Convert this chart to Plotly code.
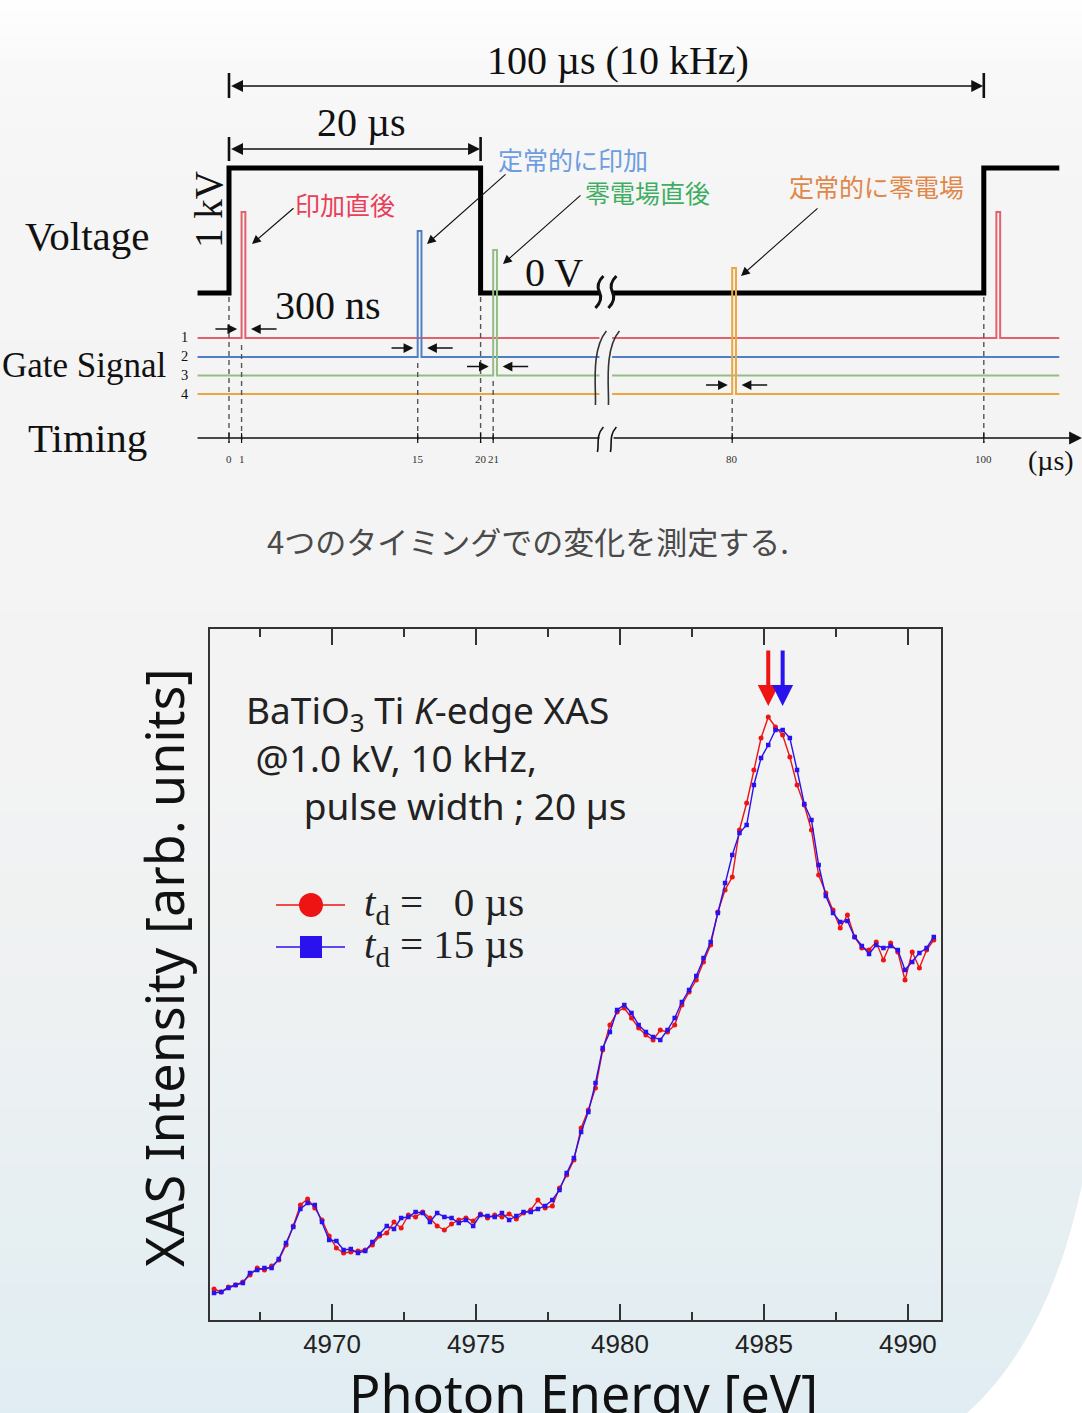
import plotly.graph_objects as go

W, H = 1082, 1413

# ---------------- Ti K-edge XAS of BaTiO3 (two gate delays) ----------------
energy_ev = [
    4965.90, 4966.15, 4966.40, 4966.65, 4966.90, 4967.15, 4967.40, 4967.65, 4967.90, 4968.15,
    4968.40, 4968.65, 4968.90, 4969.15, 4969.40, 4969.65, 4969.90, 4970.15, 4970.40, 4970.65,
    4970.90, 4971.15, 4971.40, 4971.65, 4971.90, 4972.15, 4972.40, 4972.65, 4972.90, 4973.15,
    4973.40, 4973.65, 4973.90, 4974.15, 4974.40, 4974.65, 4974.90, 4975.15, 4975.40, 4975.65,
    4975.90, 4976.15, 4976.40, 4976.65, 4976.90, 4977.15, 4977.40, 4977.65, 4977.90, 4978.15,
    4978.40, 4978.65, 4978.90, 4979.15, 4979.40, 4979.65, 4979.90, 4980.15, 4980.40, 4980.65,
    4980.90, 4981.15, 4981.40, 4981.65, 4981.90, 4982.15, 4982.40, 4982.65, 4982.90, 4983.15,
    4983.40, 4983.65, 4983.90, 4984.15, 4984.40, 4984.65, 4984.90, 4985.15, 4985.40, 4985.65,
    4985.90, 4986.15, 4986.40, 4986.65, 4986.90, 4987.15, 4987.40, 4987.65, 4987.90, 4988.15,
    4988.40, 4988.65, 4988.90, 4989.15, 4989.40, 4989.65, 4989.90, 4990.15, 4990.40, 4990.65,
    4990.90,
]

intensity_td0 = [
    0.062, 0.056, 0.066, 0.070, 0.076, 0.090, 0.104, 0.100, 0.108, 0.120,
    0.150, 0.188, 0.230, 0.242, 0.224, 0.200, 0.168, 0.144, 0.134, 0.136,
    0.138, 0.140, 0.150, 0.168, 0.174, 0.196, 0.184, 0.210, 0.206, 0.216,
    0.204, 0.188, 0.180, 0.192, 0.200, 0.204, 0.198, 0.212, 0.204, 0.210,
    0.206, 0.212, 0.202, 0.214, 0.220, 0.240, 0.224, 0.228, 0.264, 0.290,
    0.320, 0.384, 0.420, 0.464, 0.540, 0.590, 0.616, 0.624, 0.604, 0.584,
    0.570, 0.560, 0.580, 0.576, 0.590, 0.630, 0.656, 0.680, 0.716, 0.750,
    0.816, 0.860, 0.886, 0.980, 1.034, 1.100, 1.164, 1.206, 1.186, 1.170,
    1.126, 1.070, 1.030, 0.980, 0.890, 0.854, 0.820, 0.784, 0.810, 0.766,
    0.744, 0.740, 0.756, 0.720, 0.754, 0.736, 0.680, 0.736, 0.704, 0.740,
    0.760,
]

intensity_td15 = [
    0.054, 0.056, 0.064, 0.070, 0.074, 0.094, 0.100, 0.104, 0.104, 0.122,
    0.154, 0.186, 0.222, 0.234, 0.230, 0.196, 0.160, 0.158, 0.140, 0.142,
    0.134, 0.138, 0.156, 0.172, 0.188, 0.182, 0.204, 0.206, 0.216, 0.214,
    0.196, 0.214, 0.206, 0.204, 0.194, 0.200, 0.188, 0.210, 0.208, 0.206,
    0.214, 0.200, 0.208, 0.216, 0.216, 0.222, 0.228, 0.240, 0.260, 0.294,
    0.324, 0.376, 0.416, 0.474, 0.544, 0.576, 0.620, 0.630, 0.614, 0.590,
    0.576, 0.566, 0.560, 0.580, 0.604, 0.636, 0.660, 0.688, 0.724, 0.756,
    0.814, 0.874, 0.930, 0.974, 0.990, 1.070, 1.124, 1.150, 1.180, 1.180,
    1.164, 1.100, 1.032, 1.000, 0.910, 0.848, 0.814, 0.796, 0.798, 0.766,
    0.748, 0.732, 0.750, 0.744, 0.748, 0.740, 0.700, 0.716, 0.734, 0.744,
    0.766,
]

# white-line peak positions marked by arrows
peak_td0_ev = 4985.15
peak_td15_ev = 4985.65

x_ticks = [4970, 4975, 4980, 4985, 4990]

# ---------------- pulse / gate timing scheme (µs) ----------------
period_us = 100
pulse_on_us = 20
gate_width_us = 0.3
gate_delays = [[1, 101], [15], [21], [80]]          # gate 1..4 windows
gate_colors = ["#e3606c", "#4f7fc6", "#94bd84", "#eba640"]
timing_ticks = [0, 1, 15, 20, 21, 80, 100]
timing_labels = ["0", "1", "15", "20", "21", "80", "100"]
jp_labels = ["印加直後", "定常的に印加", "零電場直後", "定常的に零電場"]
jp_colors = ["#e8405a", "#6d9de0", "#3fae62", "#e0874a"]

RED, BLUE = "#ee1414", "#2a12ee"
SERIF = "Liberation Serif, Times New Roman, serif"
SANS = "Noto Sans, Open Sans, sans-serif"
ARIAL = "Liberation Sans, Arial, sans-serif"
CJK = "Noto Sans CJK JP, Noto Sans CJK SC, sans-serif"

# time axis of the scheme omits 30-70 µs (drawn as a break)
BREAK_LO, BREAK_HI = 30, 70


def td(t):
    return t if t <= BREAK_LO else t - (BREAK_HI - BREAK_LO)


T0_PX, PX_PER_US = 229, 12.58
T_START, T_END = -2.5, 66.0                     # display-time extent of the traces
GAP = (BREAK_LO - 0.55, BREAK_LO + 0.45)       # visible gap at the break

V_HIGH, V_LOW = 168, 293                        # voltage levels (y2 units)
gate_base = [338, 357, 375.5, 394]
gate_top = [212, 231, 250, 268]
AXIS_Y = 438

fig = go.Figure()

# spectra
fig.add_trace(go.Scatter(
    x=energy_ev, y=intensity_td0, mode="lines+markers",
    line=dict(color=RED, width=1.4), marker=dict(symbol="circle", size=5, color=RED),
    showlegend=False, hoverinfo="skip"))
fig.add_trace(go.Scatter(
    x=energy_ev, y=intensity_td15, mode="lines+markers",
    line=dict(color=BLUE, width=1.4), marker=dict(symbol="square", size=4.5, color=BLUE),
    showlegend=False, hoverinfo="skip"))

# hand-placed legend samples
for yy, col, sym in [(905, RED, "circle"), (947, BLUE, "square")]:
    fig.add_trace(go.Scatter(x=[276, 345], y=[yy, yy], xaxis="x2", yaxis="y2", mode="lines",
                             line=dict(color=col, width=1.6), showlegend=False, hoverinfo="skip"))
    fig.add_trace(go.Scatter(x=[311], y=[yy], xaxis="x2", yaxis="y2", mode="markers",
                             marker=dict(symbol=sym, size=24 if sym == "circle" else 22, color=col),
                             showlegend=False, hoverinfo="skip"))
fig.add_trace(go.Scatter(x=[0], y=[0], xaxis="x3", yaxis="y2", mode="markers",
                         marker=dict(size=0.1, opacity=0), showlegend=False, hoverinfo="skip"))

shapes = []
annotations = []

# ---- slide background: vertical gradient + white corner ----
stops = [(0, (255, 255, 255)), (70, (248, 248, 248)), (200, (245, 245, 245)),
         (750, (243, 243, 243)), (1000, (238, 241, 242)), (1413, (224, 237, 242))]
nb = 120
for i in range(nb):
    y0 = H * i / nb
    y1 = H * (i + 1) / nb + 1
    ym = (y0 + y1) / 2
    for (a, ca), (b, cb) in zip(stops[:-1], stops[1:]):
        if a <= ym <= b:
            f = (ym - a) / (b - a)
            c = tuple(round(ca[k] + f * (cb[k] - ca[k])) for k in range(3))
            break
    else:
        c = stops[-1][1]
    shapes.append(dict(type="rect", xref="paper", yref="paper", x0=0, x1=1,
                       y0=1 - y1 / H, y1=1 - y0 / H, line=dict(width=0),
                       fillcolor="rgb(%d,%d,%d)" % c, layer="below"))
shapes.append(dict(type="path", xref="x2", yref="y2", layer="below",
                   path="M 966,1414 Q 1050,1340 1083,1180 L 1083,1414 Z",
                   fillcolor="#ffffff", line=dict(width=0)))


def seg(x0, y0, x1, y1, color="#111", width=1.5, dash="solid", xref="x3"):
    shapes.append(dict(type="line", xref=xref, yref="y2", x0=x0, y0=y0, x1=x1, y1=y1,
                       line=dict(color=color, width=width, dash=dash)))


def path(pts, color, width, xref="x3"):
    d = "M " + " L ".join("%.3f,%.3f" % p for p in pts)
    shapes.append(dict(type="path", xref=xref, yref="y2", path=d,
                       line=dict(color=color, width=width)))


def label(x, y, s, size, color="#111", family=SERIF, xanchor="center", yanchor="middle",
          angle=0, xref="x2", align="center"):
    annotations.append(dict(x=x, y=y, xref=xref, yref="y2", text=s, showarrow=False,
                            font=dict(family=family, size=size, color=color),
                            xanchor=xanchor, yanchor=yanchor, textangle=angle,
                            align=align, borderpad=0))


def arrow(x0, y0, x1, y1, color="#111", width=1.2, size=1.6, both=False, xref="x3"):
    annotations.append(dict(x=x1, y=y1, ax=x0, ay=y0, xref=xref, yref="y2",
                            axref=xref, ayref="y2", text="", showarrow=True,
                            arrowhead=2, arrowsize=size, arrowwidth=width, arrowcolor=color,
                            arrowside="end+start" if both else "end",
                            startarrowhead=2, startarrowsize=size,
                            standoff=0, startstandoff=0))


# ---- voltage waveform ----
hv_on, hv_off, nxt = td(0), td(pulse_on_us), td(period_us)
path([(T_START, V_LOW), (hv_on, V_LOW), (hv_on, V_HIGH), (hv_off, V_HIGH),
      (hv_off, V_LOW), (GAP[0], V_LOW)], "#000", 5)
path([(GAP[1], V_LOW), (nxt, V_LOW), (nxt, V_HIGH), (T_END, V_HIGH)], "#000", 5)

# ---- gate signals ----
for gi, (delays, col) in enumerate(zip(gate_delays, gate_colors)):
    yb, yt = gate_base[gi], gate_top[gi]
    left, right = [(T_START, yb)], [(GAP[1], yb)]
    for t in delays:
        d0, d1 = td(t), td(t + gate_width_us)
        pulse = [(d0, yb), (d0, yt), (d1, yt), (d1, yb)]
        (left if t <= BREAK_LO else right).extend(pulse)
    left.append((GAP[0], yb))
    right.append((T_END, yb))
    path(left, col, 2)
    path(right, col, 2)
    # inward arrows marking the 300 ns window
    for t in delays[:1]:
        ya = yb - 9
        arrow(td(t) - 2.2, ya, td(t) - 0.35, ya, width=1.3, size=1.5)
        arrow(td(t + gate_width_us) + 2.6, ya, td(t + gate_width_us) + 0.45, ya, width=1.3, size=1.5)
# channel numbers 1-4 stacked next to the gate lines
label(185, (gate_base[0] + gate_base[-1]) / 2 - 1,
      "<br>".join(str(i + 1) for i in range(len(gate_delays))), 14.5, family=SERIF)

# ---- dashed timing guides + time axis ----
guide_top = {0: 297, 1: 345, 15: 363, 20: 297, 21: 381, 80: 399, 100: 297}
for t, lab in zip(timing_ticks, timing_labels):
    seg(td(t), guide_top[t], td(t), AXIS_Y + 5, color="#555", width=1.4, dash="5px,4px")
    seg(td(t), AXIS_Y - 5, td(t), AXIS_Y + 5, color="#111", width=1.2)
    label(td(t), 459, lab, 11, color="#333", xref="x3")
seg(T_START, AXIS_Y, GAP[0], AXIS_Y, width=1.6)
arrow(GAP[1], AXIS_Y, 67.8, AXIS_Y, width=1.6, size=1.6)

# break marks
bx = T0_PX + PX_PER_US * BREAK_LO
for dx in (-7, 6):
    c = bx + dx
    shapes.append(dict(type="path", xref="x2", yref="y2", line=dict(color="#111", width=3),
                       path="M %.1f,276 Q %.1f,284 %.1f,292 Q %.1f,300 %.1f,308" % (c + 4, c - 4, c, c + 4, c - 4)))
    shapes.append(dict(type="path", xref="x2", yref="y2", line=dict(color="#333", width=1.6),
                       path="M %.1f,331 C %.1f,350 %.1f,390 %.1f,405" % (c + 7, c - 9, c - 3, c - 4)))
    shapes.append(dict(type="path", xref="x2", yref="y2", line=dict(color="#111", width=1.6),
                       path="M %.1f,427 C %.1f,436 %.1f,444 %.1f,452" % (c + 4, c - 4, c, c - 2)))

# ---- period / pulse-width dimension lines ----
for t in (0, period_us):
    seg(td(t), 73, td(t), 98, width=2.6)
arrow(td(0) + 0.05, 86, td(period_us) - 0.05, 86, width=1.4, size=1.7, both=True)
for t in (0, pulse_on_us):
    seg(td(t), 137, td(t), 161, width=2.6)
arrow(td(0) + 0.05, 149, td(pulse_on_us) - 0.05, 149, width=1.4, size=1.7, both=True)

label(618, 60, "100 µs (10 kHz)", 40)
label(361, 122, "20 µs", 40)
label(24, 236, "Voltage", 41, xanchor="left")
label(208, 210, "1 kV", 39, angle=-90)
label(274, 305, "300 ns", 40, xanchor="left")
label(524, 272, "0 V", 40, xanchor="left")
label(1, 365, "Gate Signal", 35, xanchor="left")
label(27, 438, "Timing", 41, xanchor="left")
label(1051, 460, "(µs)", 28)

# Japanese labels with leader arrows
label(294, 204, jp_labels[0], 25, color=jp_colors[0], family=CJK, xanchor="left")
label(497, 159, jp_labels[1], 25, color=jp_colors[1], family=CJK, xanchor="left")
label(584, 192, jp_labels[2], 25, color=jp_colors[2], family=CJK, xanchor="left")
label(788, 186, jp_labels[3], 25, color=jp_colors[3], family=CJK, xanchor="left")
arrow(295, 207, 252, 244, xref="x2", width=1.1, size=1.6)
arrow(507, 173, 427, 244, xref="x2", width=1.1, size=1.6)
arrow(582, 194, 503, 264, xref="x2", width=1.1, size=1.6)
arrow(819, 207, 741, 276, xref="x2", width=1.1, size=1.6)

label(528, 540, "4つのタイミングでの変化を測定する.", 31, color="#4a4a4a", family=CJK)

# ---- XAS panel texts ----
NB = "\u00a0"
label(245, 757,
      "BaTiO<sub>3</sub> Ti <i>K</i>-edge XAS<br>" + NB + "@1.0 kV, 10 kHz,<br>"
      + NB * 6 + "pulse width ; 20 µs",
      37, color="#222", family=SANS, xanchor="left", align="left")
label(363, 905, "<i>t</i><sub>d</sub> =" + NB + "\u20070 µs", 41, color="#222", xanchor="left")
label(363, 947, "<i>t</i><sub>d</sub> = 15 µs", 41, color="#222", xanchor="left")
label(163, 968, "XAS Intensity [arb. units]", 52, color="#111", family=SANS, angle=-90)
label(583, 1392, "Photon Energy [eV]", 52, color="#111", family=SANS)

# peak arrows
for e, col in [(peak_td0_ev, RED), (peak_td15_ev, BLUE)]:
    annotations.append(dict(x=e, y=1.228, ax=e, ay=1.342, xref="x", yref="y",
                            axref="x", ayref="y", text="", showarrow=True, arrowhead=2,
                            arrowsize=1.05, arrowwidth=4, arrowcolor=col, standoff=0))

fig.update_layout(
    width=W, height=H, margin=dict(l=0, r=0, t=0, b=0),
    paper_bgcolor="#f3f3f3", plot_bgcolor="rgba(0,0,0,0)",
    showlegend=False,
    xaxis=dict(domain=[210 / W, 941 / W], range=[4965.76, 4991.15], anchor="y",
               tickmode="array", tickvals=x_ticks, ticktext=[str(v) for v in x_ticks],
               showline=True, linecolor="#333", linewidth=2, mirror="ticks",
               ticks="inside", ticklen=16, tickwidth=1.6, tickcolor="#333",
               minor=dict(ticks="inside", ticklen=8, tickwidth=1.6, tickcolor="#333",
                          tickmode="array", tickvals=[4967.5, 4972.5, 4977.5, 4982.5, 4987.5]),
               showgrid=False, zeroline=False,
               tickfont=dict(family=ARIAL, size=26, color="#222")),
    yaxis=dict(domain=[(H - 1320) / H, (H - 629) / H], range=[0, 1.382], anchor="x",
               showline=True, linecolor="#333", linewidth=2, mirror=True,
               ticks="", showticklabels=False, showgrid=False, zeroline=False),
    xaxis2=dict(domain=[0, 1], range=[0, W], anchor="y2", visible=False),
    yaxis2=dict(domain=[0, 1], range=[H, 0], anchor="x2", visible=False),
    xaxis3=dict(domain=[0, 1], range=[-T0_PX / PX_PER_US, (W - T0_PX) / PX_PER_US],
                anchor="y2", overlaying="x2", visible=False),
    shapes=shapes,
    annotations=annotations,
)

fig.write_html("out.html")
